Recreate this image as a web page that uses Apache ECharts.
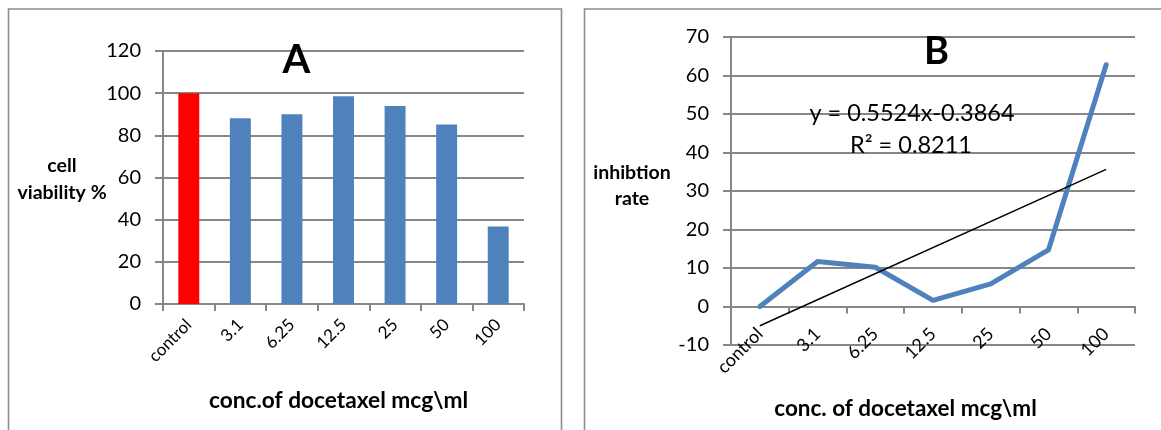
<!DOCTYPE html>
<html><head><meta charset="utf-8">
<script src="https://cdn.jsdelivr.net/npm/echarts@6/dist/echarts.min.js"></script>
<style>html,body{margin:0;padding:0;background:#fff}#c{width:1161px;height:430px}</style>
</head><body><div id="c"></div>
<script>
// ---- data ----
const categories = ['control', '3.1', '6.25', '12.5', '25', '50', '100'];
const viability = [100, 88.1, 90.0, 98.5, 93.9, 85.1, 36.7];       // panel A, %
const inhibition = [0, 11.7, 10.2, 1.6, 5.9, 14.7, 62.8];          // panel B
const trendEnds = [-5.0, 35.6];                                      // linear trendline at 'control' and '100'
const viabilityAxis = [0, 120, 20];    // min, max, interval
const inhibitionAxis = [-10, 70, 10];  // min, max, interval
const equationLines = ['y = 0.5524x-0.3864', 'R\u00b2 = 0.8211'];

// ---- styles ----
const GRAY = '#878787';
const FONT = 'Lato';
const barColor = i => (i === 0 ? '#ff0000' : '#4f81bd');

function catAxis(gi, fontSize, margin) {
  return {
    type: 'category', gridIndex: gi, data: categories, boundaryGap: true,
    axisLine: { show: true, onZero: true, lineStyle: { color: GRAY, width: 2 } },
    axisTick: { show: true, length: 7, lineStyle: { color: GRAY, width: 2 } },
    axisLabel: { rotate: 45, margin: margin, fontSize: fontSize, fontFamily: FONT, color: '#000', interval: 0 }
  };
}
function valAxis(gi, cfg) {
  return {
    type: 'value', gridIndex: gi, min: cfg[0], max: cfg[1], interval: cfg[2],
    axisLine: { show: true, lineStyle: { color: GRAY, width: 2 } },
    axisTick: { show: true, length: 8, lineStyle: { color: GRAY, width: 2 } },
    splitLine: { show: true, lineStyle: { color: GRAY, width: 2 } },
    axisLabel: { margin: 22, fontSize: 20, fontFamily: FONT, color: '#000' }
  };
}
function txt(text, x, y, font, lh) {
  return { type: 'text', z: 100, style: { text: text, x: x, y: y, align: 'center', verticalAlign: 'middle',
    font: font, fill: '#000', lineHeight: lh || undefined } };
}

const chart = echarts.init(document.getElementById('c'), null, { renderer: 'canvas' });
chart.setOption({
  animation: false,
  backgroundColor: '#fff',
  grid: [
    { left: 163, top: 51, width: 361, height: 253, containLabel: false },
    { left: 731, top: 37, width: 404, height: 308, containLabel: false }
  ],
  xAxis: [catAxis(0, 17, 18), catAxis(1, 18, -14)],
  yAxis: [valAxis(0, viabilityAxis), valAxis(1, inhibitionAxis)],
  series: [
    {
      type: 'bar', xAxisIndex: 0, yAxisIndex: 0, barWidth: '40.6%',
      data: viability.map((v, i) => ({ value: v, itemStyle: { color: barColor(i) } }))
    },
    {
      type: 'line', xAxisIndex: 1, yAxisIndex: 1, data: inhibition, showSymbol: false, symbol: 'none',
      lineStyle: { color: '#4f81bd', width: 5, cap: 'round', join: 'round' }, itemStyle: { color: '#4f81bd' }, z: 3
    },
    {
      type: 'line', xAxisIndex: 1, yAxisIndex: 1, showSymbol: false, symbol: 'none',
      data: [[categories[0], trendEnds[0]], [categories[categories.length - 1], trendEnds[1]]],
      lineStyle: { color: '#000', width: 1.4 }, itemStyle: { color: '#000' }, z: 4
    }
  ],
  graphic: [
    { type: 'rect', z: 0, shape: { x: 8.5, y: 9, width: 553, height: 440 }, style: { fill: 'none', stroke: '#8c8c8c', lineWidth: 1.6 } },
    { type: 'rect', z: 0, shape: { x: 584.5, y: 9, width: 620, height: 440 }, style: { fill: 'none', stroke: '#8c8c8c', lineWidth: 1.6 } },
    txt('A', 296.5, 60, 'bold 40px Lato'),
    txt('B', 936.5, 52, 'bold 38px Lato'),
    txt('cell\nviability %', 62, 179, 'bold 19.5px Lato', 27),
    txt('inhibtion\nrate', 632, 186, 'bold 19.5px Lato', 26),
    txt('conc.of docetaxel mcg\\ml', 338.5, 401, 'bold 22.7px Lato'),
    txt('conc. of docetaxel mcg\\ml', 905.5, 409, 'bold 22.5px Lato'),
    txt(equationLines[0], 912, 113, '23.5px Lato'),
    txt(equationLines[1], 911, 145, '23.5px Lato')
  ]
});
</script>
</body></html>
